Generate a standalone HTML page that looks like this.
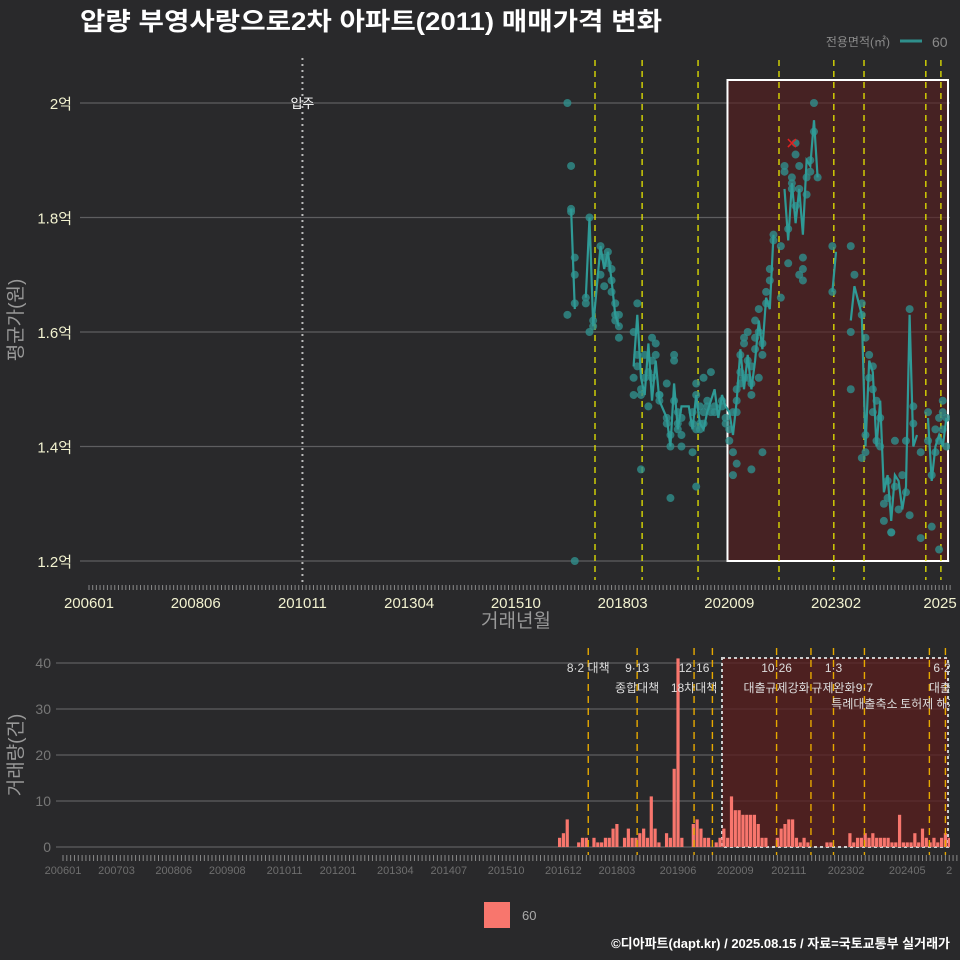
<!DOCTYPE html>
<html><head><meta charset="utf-8">
<style>
html,body{margin:0;padding:0;background:#29292b;}
svg{display:block;font-family:"Liberation Sans","Noto Sans CJK KR",sans-serif;}
</style></head>
<body>
<svg id="chart" width="960" height="960" viewBox="0 0 960 960">
<defs>
<clipPath id="topClip"><rect x="80" y="50" width="870" height="540"/></clipPath>
<clipPath id="botClip"><rect x="56" y="640" width="894" height="215"/></clipPath>
<clipPath id="botLabelClip"><rect x="0" y="860" width="952" height="30"/></clipPath>
</defs>
<rect x="0" y="0" width="960" height="960" fill="#29292b"/>
<text x="80" y="30" fill="#ffffff" font-size="25" font-weight="bold" textLength="582" lengthAdjust="spacingAndGlyphs">압량 부영사랑으로2차 아파트(2011) 매매가격 변화</text>
<g>
<text x="890" y="46" fill="#8a8a8a" font-size="12" text-anchor="end">전용면적(㎡)</text>
<line x1="900" y1="41" x2="922" y2="41" stroke="#2f8f8c" stroke-width="3"/>
<text x="932" y="47" fill="#8a8a8a" font-size="14">60</text>
</g>
<g id="topChart"></g>
<g id="botChart"></g>
<g>
<rect x="484" y="902" width="26" height="26" fill="#f8766d"/>
<text x="522" y="920" fill="#aaaaaa" font-size="13">60</text>
</g>
<text x="950" y="948" fill="#ffffff" font-size="13" font-weight="bold" text-anchor="end">©디아파트(dapt.kr) / 2025.08.15 / 자료=국토교통부 실거래가</text>
</svg>
<script>
// month index = months since 2006-01
const priceTicks = [12000, 14000, 16000, 18000, 20000];
const priceTickLabels = ["1.2억", "1.4억", "1.6억", "1.8억", "2억"];
const topXTickMonths = [0, 29, 58, 87, 116, 145, 174, 203, 232];
const topXTickLabels = ["200601", "200806", "201011", "201304", "201510", "201803", "202009", "202302", "2025"];
const botXTickMonths = [0, 14, 29, 43, 58, 72, 87, 101, 116, 131, 145, 161, 176, 190, 205, 221, 236];
const botXTickLabels = ["200601", "200703", "200806", "200908", "201011", "201201", "201304", "201407", "201510", "201612", "201803", "201906", "202009", "202111", "202302", "202405", "202507"];
const volTicks = [0, 10, 20, 30, 40];
const eventMonths = [137.5, 150.3, 165.2, 170, 186.8, 195.8, 201.7, 209.8, 226.8, 231];
const topEventMonths = [137.5, 150.3, 165.5, 187.5, 202.4, 210.6, 227.4, 231.5];
const eventLabelsTop = ["8·2 대책", "9·13", "12·16", "", "10·26", "", "1·3", "", "", "6·27"];
const eventLabelsMid = ["", "종합대책", "18차대책", "", "대출규제강화", "", "규제완화", "9·7", "", "대출규"];
const eventLabelsLow = ["", "", "", "", "", "", "", "특례대출축소", "토허제 해제", ""];
const moveInMonth = 58;
const shadeStart = 173.5;
const lineMonths = [131,132,135,136,137,139,140,141,142,143,144,148,149,150,151,152,153,154,155,157,158,159,160,161,163,164,165,166,167,168,169,170,171,172,173,174,175,176,177,178,179,180,181,182,183,184,185,186,189,190,191,192,193,194,195,196,197,198,202,203,207,208,210,211,212,213,214,215,216,217,218,219,220,221,222,223,224,225,228,229,230,231,232,233];
const lineValues = [18150,16400,16600,18000,16100,17500,17100,17400,16900,16300,16100,15400,16300,15200,14900,15800,14800,15500,14800,14500,14000,15100,14300,14700,14700,14300,14900,14400,14300,14600,14800,15000,14500,14900,14700,14600,14200,14800,15700,15000,15600,15000,15500,16200,15700,16600,16400,17700,18500,17600,18600,17900,18500,17700,19000,18900,19700,18700,16700,17400,16200,16800,16300,14000,15500,15300,14000,14800,13200,13500,12700,13500,13400,12900,13300,16300,14000,14200,14500,13400,14000,14200,14000,14500];
const tradeMonths = [130,130,131,131,131,132,132,132,132,135,135,136,136,137,137,139,139,140,140,141,141,142,142,142,143,143,143,144,144,144,148,148,148,149,149,149,150,150,150,151,151,152,152,153,153,153,154,154,155,155,155,157,157,157,158,158,158,159,159,159,160,160,160,161,161,161,164,164,164,165,165,165,165,166,166,166,167,167,167,168,168,169,169,170,170,172,172,173,173,174,174,175,175,175,176,176,176,176,177,177,177,178,178,178,179,179,179,180,180,180,180,181,181,181,182,182,182,183,183,183,184,184,185,185,186,186,188,188,189,189,190,190,191,191,191,192,192,192,193,193,193,194,194,194,195,195,196,196,197,197,198,202,202,207,207,207,208,210,210,210,211,211,211,212,212,213,213,213,214,214,215,215,216,216,217,217,218,218,219,219,220,221,222,222,223,223,224,224,226,226,228,228,229,229,230,230,231,231,231,232,232,232,233,233];
const tradePrices = [20000,16300,18900,18100,18150,17000,17300,16500,12000,16500,16600,18000,16000,16200,16100,17500,17000,17300,16800,17400,17200,17100,16900,16700,16300,16500,16200,16100,16300,15900,16000,15200,14900,16500,15400,15600,14900,15000,13600,15600,15200,14700,15300,15200,15500,15900,15800,15600,14900,14800,14900,14400,15100,14500,13100,14200,14000,15600,15500,14800,14600,14400,14300,14500,14000,14200,14400,14600,13900,14900,15100,14300,13300,14700,14300,14400,14400,14600,15200,14800,14700,15300,14600,14700,14600,14800,14700,14500,14400,14300,14100,13500,13900,14600,14800,15000,14600,13700,15600,15300,15100,15800,15900,15200,16000,15500,15200,15400,15100,14900,13600,15900,16200,15700,16400,16000,15200,15800,15600,13900,16700,16500,17100,16900,17600,17700,16600,17500,18900,18800,17800,17200,18600,18700,18500,19300,19100,18200,18900,18500,17000,17100,17300,16900,18400,18700,18800,19000,20000,19500,18700,16700,17500,16000,15000,17500,17000,16500,16300,13800,14200,13900,15900,15600,15200,15400,15000,14600,14800,14100,14500,14000,13000,12700,13400,13100,12500,12500,14100,13300,12900,13500,14100,13200,16400,12800,14700,14400,12400,13900,14600,14100,13500,12600,13900,14300,12200,14100,14500,14600,14300,14800,14000,14500];
const volMonthStart = 130;
const volValues = [2,3,6,0,0,1,2,2,0,2,1,1,2,2,4,5,0,2,4,2,2,3,4,2,11,4,1,0,3,2,17,41,2,0,0,5,6,4,2,2,0,1,2,4,2,11,8,8,7,7,7,7,5,2,2,0,0,2,4,5,6,6,2,1,2,1,0,0,0,0,1,1,0,0,0,0,3,1,2,2,3,2,3,2,2,2,2,1,1,7,1,1,1,3,1,4,2,1,2,1,2,3,2,1,0];
const cancelMonth = 191, cancelPrice = 19300;

const NS = "http://www.w3.org/2000/svg";
function mk(parent, tag, attrs) {
  const e = document.createElementNS(NS, tag);
  for (const k in attrs) e.setAttribute(k, attrs[k]);
  parent.appendChild(e);
  return e;
}
const xT = m => 89 + m * 3.68;
const yT = p => 561 - (p - 12000) / 8000 * 458;
const xB = m => 63 + m * 3.82;
const yB = v => 847 - v * 4.6;

const topG = document.getElementById('topChart');
const botG = document.getElementById('botChart');

// ---- top chart ----
priceTicks.forEach((p, i) => {
  const gl = mk(topG, 'line', {x1: 80, x2: 950, y1: yT(p), y2: yT(p), stroke: '#5e5e60', 'stroke-width': 1.2});
  
  
  const t = mk(topG, 'text', {x: 72, y: yT(p) + 6, fill: '#f2f2d0', 'font-size': 15, 'text-anchor': 'end'});
  t.textContent = priceTickLabels[i];
  
  
});
const topClipG = mk(topG, 'g', {'clip-path': 'url(#topClip)'});
const shade = mk(topClipG, 'rect', {x: xT(shadeStart), y: 80, width: 948 - xT(shadeStart), height: 481, fill: '#5a1e1e', 'fill-opacity': 0.6, stroke: '#ffffff', 'stroke-width': 2});


const mv = mk(topClipG, 'line', {x1: xT(moveInMonth), x2: xT(moveInMonth), y1: 58, y2: 585, stroke: '#bbbbbb', 'stroke-width': 2, 'stroke-dasharray': '2,4'});


const mvt = mk(topClipG, 'text', {x: xT(moveInMonth), y: 108, fill: '#ffffff', 'font-size': 13, 'text-anchor': 'middle'});
mvt.textContent = '입주';


topEventMonths.forEach(m => {
  const l = mk(topClipG, 'line', {x1: xT(m), x2: xT(m), y1: 60, y2: 580, stroke: '#e6e600', 'stroke-width': 1.3, 'stroke-dasharray': '6,5'});
  
  
});
tradeMonths.forEach((m, i) => {
  const c = mk(topClipG, 'circle', {cx: xT(m), cy: yT(tradePrices[i]), r: 4, fill: '#2f8f8c', 'fill-opacity': 0.8});
  
  
});
let d = '';
for (let i = 0; i < lineMonths.length; i++) {
  const brk = i === 0 || lineMonths[i] - lineMonths[i - 1] > 2;
  d += (brk ? 'M' : 'L') + xT(lineMonths[i]).toFixed(1) + ',' + yT(lineValues[i]).toFixed(1);
}
const pl = mk(topClipG, 'path', {d: d, fill: 'none', stroke: '#2f9a96', 'stroke-width': 2.2});


const cx = xT(cancelMonth), cy = yT(cancelPrice);
const cm = mk(topClipG, 'path', {d: `M${cx-4},${cy-4}L${cx+4},${cy+4}M${cx-4},${cy+4}L${cx+4},${cy-4}`, stroke: '#e02020', 'stroke-width': 1.5});


for (let m = 0; m <= 234; m++) {
  const tk = mk(topG, 'line', {x1: xT(m), x2: xT(m), y1: 585, y2: 590, stroke: '#888', 'stroke-width': 1});
  
  
}
topXTickMonths.forEach((m, i) => {
  const x = Math.min(xT(m), 940);
  const t = mk(topG, 'text', {x: x, y: 608, fill: '#f2f2d0', 'font-size': 15, 'text-anchor': 'middle'});
  t.textContent = topXTickLabels[i];
  
  
});
const xt = mk(topG, 'text', {x: 516, y: 627, fill: '#999999', 'font-size': 19, 'text-anchor': 'middle'});
xt.textContent = '거래년월';


const yt = mk(topG, 'text', {x: 0, y: 0, fill: '#999999', 'font-size': 19, 'text-anchor': 'middle', transform: 'translate(22,320) rotate(-90)'});
yt.textContent = '평균가(원)';



// ---- bottom chart ----
volTicks.forEach(v => {
  const gl = mk(botG, 'line', {x1: 56, x2: 950, y1: yB(v), y2: yB(v), stroke: '#5e5e60', 'stroke-width': 1.2});
  
  
  const t = mk(botG, 'text', {x: 51, y: yB(v) + 5, fill: '#777777', 'font-size': 14, 'text-anchor': 'end'});
  t.textContent = v;
  
  
});
const botClipG = mk(botG, 'g', {'clip-path': 'url(#botClip)'});
const shade2 = mk(botClipG, 'rect', {x: 722, y: 658, width: 226, height: 189, fill: '#5a1e1e', 'fill-opacity': 0.75, stroke: '#cccccc', 'stroke-width': 2, 'stroke-dasharray': '3,3'});


volValues.forEach((v, i) => {
  if (v <= 0) return;
  const m = volMonthStart + i;
  const r = mk(botClipG, 'rect', {x: xB(m) - 1.6, y: yB(v), width: 3.2, height: v * 4.6, fill: '#f8766d'});
  
  
});
eventMonths.forEach((m, i) => {
  const x = xB(m);
  const l = mk(botClipG, 'line', {x1: x, x2: x, y1: 648, y2: 855, stroke: '#e6a800', 'stroke-width': 1.4, 'stroke-dasharray': '7,5'});
  
  
  [[eventLabelsTop[i], 672], [eventLabelsMid[i], 692], [eventLabelsLow[i], 708]].forEach(([s, y]) => {
    if (!s) return;
    const t = mk(botClipG, 'text', {x: x, y: y, fill: '#dddddd', 'font-size': 12, 'text-anchor': 'middle'});
    t.textContent = s;
    
    
  });
});
for (let m = 0; m <= 234; m++) {
  const tk = mk(botG, 'line', {x1: xB(m), x2: xB(m), y1: 855, y2: 861, stroke: '#888', 'stroke-width': 1});
  
  
}
const botLabelG = mk(botG, 'g', {'clip-path': 'url(#botLabelClip)'});
botXTickMonths.forEach((m, i) => {
  const x = xB(m);
  const t = mk(botLabelG, 'text', {x: x, y: 874, fill: '#6e6e6e', 'font-size': 11, 'text-anchor': 'middle'});
  t.textContent = botXTickLabels[i];
  
  
});
const yt2 = mk(botG, 'text', {x: 0, y: 0, fill: '#999999', 'font-size': 19, 'text-anchor': 'middle', transform: 'translate(22,755) rotate(-90)'});
yt2.textContent = '거래량(건)';


</script>
</body></html>
